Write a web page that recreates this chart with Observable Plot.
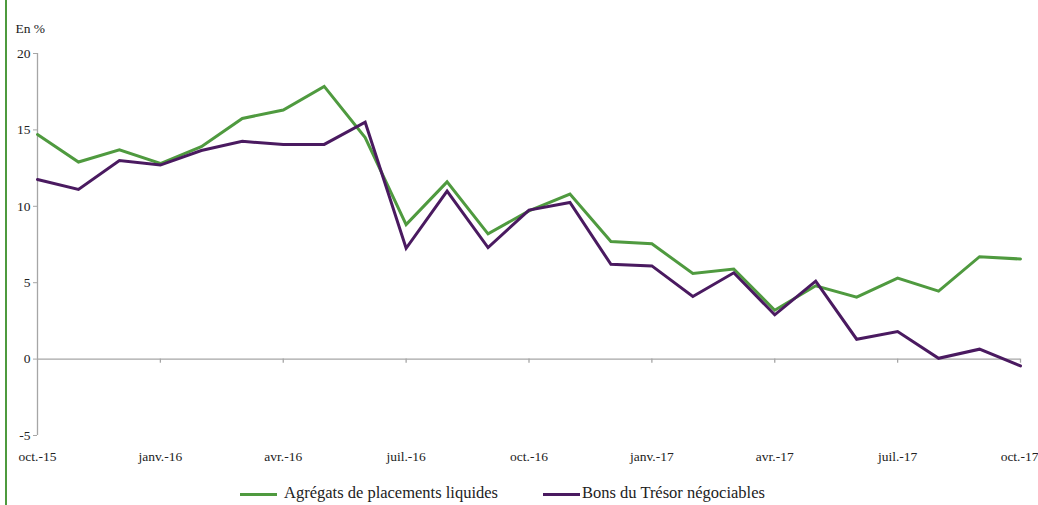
<!DOCTYPE html>
<html>
<head>
<meta charset="utf-8">
<script src="https://cdn.jsdelivr.net/npm/d3@7"></script>
<script src="https://cdn.jsdelivr.net/npm/@observablehq/plot@0.6"></script>
<style>
  html, body { margin: 0; padding: 0; background: #fff; }
  #wrap { position: relative; width: 1038px; height: 505px; overflow: hidden; font-family: "Liberation Serif", "Times New Roman", serif; }
  #border { position: absolute; left: 5px; top: 0; width: 1.5px; height: 505px; background: #4e9a3e; }
  #chart { position: absolute; left: 0; top: 0; }
  .leg { position: absolute; top: 483px; font-size: 16.5px; color: #222; white-space: nowrap; font-family: "Liberation Serif", "Times New Roman", serif; }
  .sw { position: absolute; top: 493px; height: 3px; width: 37px; }
</style>
</head>
<body>
<div id="wrap">
  <div id="border"></div>
  <div id="chart"></div>
  <div class="sw" style="left:240px;background:#4f9a3f"></div>
  <div class="leg" style="left:284px">Agrégats de placements liquides</div>
  <div class="sw" style="left:543px;background:#4a1a60"></div>
  <div class="leg" style="left:582px">Bons du Trésor négociables</div>
</div>
<script>
const months = ["oct.-15","nov.-15","déc.-15","janv.-16","févr.-16","mars-16","avr.-16","mai-16","juin-16","juil.-16","août-16","sept.-16","oct.-16","nov.-16","déc.-16","janv.-17","févr.-17","mars-17","avr.-17","mai-17","juin-17","juil.-17","août-17","sept.-17","oct.-17"];
const agregats = [14.7,12.9,13.7,12.8,13.9,15.75,16.3,17.85,14.5,8.8,11.6,8.2,9.7,10.8,7.7,7.55,5.6,5.9,3.2,4.8,4.05,5.3,4.45,6.7,6.55];
const bons = [11.75,11.1,13.0,12.7,13.65,14.25,14.05,14.05,15.5,7.25,11.0,7.3,9.75,10.25,6.2,6.1,4.1,5.65,2.9,5.1,1.3,1.8,0.05,0.65,-0.45];
const yTicks = [-5,0,5,10,15,20];
const quarterIdx = [0,3,6,9,12,15,18,21,24];

const series = [
  ...agregats.map((v,i)=>({i, v, s:"Agrégats de placements liquides"})),
  ...bons.map((v,i)=>({i, v, s:"Bons du Trésor négociables"}))
];

const gray = "#a6a6a6";
const chart = Plot.plot({
  width: 1038,
  height: 470,
  marginLeft: 37,
  marginRight: 18,
  marginTop: 53,
  marginBottom: 35,
  style: {fontFamily: "'Liberation Serif', 'Times New Roman', serif", fontSize: "13.5px", color: "#222", background: "transparent", overflow: "visible"},
  x: {type: "linear", domain: [0, 24]},
  y: {domain: [-5, 20]},
  color: {domain: ["Agrégats de placements liquides","Bons du Trésor négociables"], range: ["#4f9a3f","#4a1a60"]},
  marks: [
    Plot.ruleY([0], {stroke: gray, strokeWidth: 1.3}),
    Plot.ruleX(quarterIdx.slice(1), {x: d=>d, y1: 0, y2: -0.27, stroke: gray, strokeWidth: 1.3}),
    Plot.ruleX([0], {stroke: gray, strokeWidth: 1.3}),
    Plot.axisY({ticks: yTicks, tickSize: 4, tickPadding: 3, stroke: gray, label: null, tickFormat: d=>String(d)}),
    Plot.axisX({ticks: quarterIdx.slice(0, -1), tickSize: 0, tickPadding: 16, label: null, tickFormat: d=>months[d]}),
    Plot.axisX({ticks: quarterIdx.slice(-1), tickSize: 0, tickPadding: 16, label: null, tickFormat: d=>months[d], textAnchor: "end", dx: 18}),
    Plot.text(["En %"], {frameAnchor: "top-left", dx: -22, dy: -30, textAnchor: "start", fontSize: 13.5}),
    Plot.line(series, {x: "i", y: "v", z: "s", stroke: "s", strokeWidth: 3, strokeLinejoin: "miter", strokeMiterlimit: 4})
  ]
});
document.getElementById("chart").appendChild(chart);
</script>
</body>
</html>
